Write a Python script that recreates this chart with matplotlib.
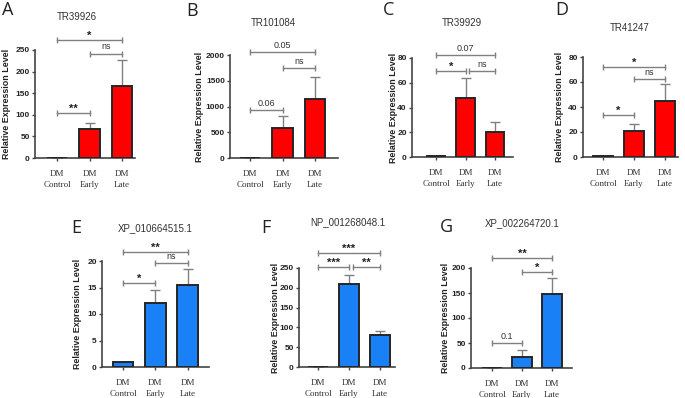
import matplotlib.pyplot as plt
import numpy as np

# group labels on the x axis
groups = ["DM\nControl", "DM\nEarly", "DM\nLate"]

# panel letters and gene titles
letters = ["A", "B", "C", "D", "E", "F", "G"]
titles = ["TR39926", "TR101084", "TR39929", "TR41247",
          "XP_010664515.1", "NP_001268048.1", "XP_002264720.1"]

# mean relative expression (Control, Early, Late)
means_A = [1, 67, 167]
means_B = [1, 580, 1150]
means_C = [1, 47.5, 20.5]
means_D = [1, 21, 44.5]
means_E = [1, 12, 15.5]
means_F = [1, 210, 80]
means_G = [1, 23, 148]

# upper error (SEM)
err_A = [0, 13, 61]
err_B = [0, 230, 430]
err_C = [0, 16, 8]
err_D = [0, 5.5, 14]
err_E = [0, 2.5, 3]
err_F = [0, 23, 10]
err_G = [0, 13, 32]

# y axis tops and tick steps
ymax = [250, 2000, 80, 80, 20, 250, 200]
ystep = [50, 500, 20, 20, 5, 50, 50]

# significance brackets: (from group, to group, height, label)
sig_A = [(0, 2, 273, "*"), (1, 2, 241, "ns"), (0, 1, 104, "**")]
sig_B = [(0, 2, 2058, "0.05"), (1, 2, 1748, "ns"), (0, 1, 932, "0.06")]
sig_C = [(0, 2, 82.4, "0.07"), (0, 1, 69.5, "*"), (1.12, 2, 69.5, "ns")]
sig_D = [(0, 2, 72, "*"), (1, 2, 62.4, "ns"), (0, 1, 33.6, "*")]
sig_E = [(0, 2, 21.7, "**"), (1, 2, 19.6, "ns"), (0, 1, 15.8, "*")]
sig_F = [(0, 2, 288.6, "***"), (0, 1, 253, "***"), (1.12, 2, 253, "**")]
sig_G = [(0, 2, 220, "**"), (1, 2, 192, "*"), (0, 1, 50, "0.1")]

means = [means_A, means_B, means_C, means_D, means_E, means_F, means_G]
errs = [err_A, err_B, err_C, err_D, err_E, err_F, err_G]
sigs = [sig_A, sig_B, sig_C, sig_D, sig_E, sig_F, sig_G]

RED = "#FF0000"
BLUE = "#1A80F5"
colors = [RED] * 4 + [BLUE] * 3

# layout in pixels: left, right, y of zero, y of top tick, control x, spacing
W, H = 685, 398
layout = [
    (35, 135, 158, 50, 57, 32.5),
    (230, 338, 158, 55, 250, 32.5),
    (412, 513, 157, 58, 436, 29.5),
    (583, 678, 157, 57, 603, 31),
    (102, 209, 367, 261, 123, 32.3),
    (299, 395, 367, 268, 318, 31),
    (471, 572, 368, 268, 492, 30),
]
ylabel_x = [7, 200, 393, 560, 78, 275, 446]
title_pos = [(77, 17), (273, 23), (462, 23), (630, 28), (155, 228), (348, 222), (522, 223)]
letter_pos = [(8, 10), (192, 11), (389, 10), (562, 10), (76, 228), (266, 228), (446, 227)]

fig = plt.figure(figsize=(W / 100, H / 100), dpi=100)
sans = ["Liberation Sans", "DejaVu Sans"]
serif = ["Liberation Serif", "DejaVu Serif"]

for k in range(7):
    left, right, y0, ytop, cx, sp = layout[k]
    ax = fig.add_axes([left / W, 1 - y0 / H, (right - left) / W, (y0 - ytop) / H])
    x = np.arange(3)
    ax.bar(x, means[k], width=0.64, color=colors[k], edgecolor="#262626",
           linewidth=1.4, zorder=3)
    ax.errorbar(x, means[k], yerr=[np.zeros(3), errs[k]], fmt="none",
                ecolor="#808080", elinewidth=1.0, capsize=3.5, capthick=1.0, zorder=2)
    ax.set_xlim((left - cx) / sp, (right - cx) / sp)
    ax.set_ylim(0, ymax[k])
    ax.set_yticks(np.arange(0, ymax[k] + ystep[k] / 2, ystep[k]))
    ax.set_xticks(x)
    ax.set_xticklabels(groups, family=serif, fontsize=6.5, color="#333333",
                       linespacing=1.5)
    for lab in ax.get_yticklabels():
        lab.set_family(sans)
        lab.set_fontweight("bold")
        lab.set_fontsize(6)
        lab.set_color("#222222")
    ax.tick_params(axis="both", direction="out", length=2.5, width=1.0, color="#444444")
    ax.tick_params(axis="x", pad=6)
    ax.tick_params(axis="y", pad=1.2)
    for s in ["top", "right"]:
        ax.spines[s].set_visible(False)
    for s in ["left", "bottom"]:
        ax.spines[s].set_color("#444444")
        ax.spines[s].set_linewidth(1.2)
    ax.set_ylabel("Relative Expression Level", family=sans, fontweight="bold",
                  fontsize=6.4, color="#222222", va="center")
    ax.yaxis.set_label_coords((ylabel_x[k] - left) / (right - left), 0.5)

    # significance brackets
    for a, b, yv, lab in sigs[k]:
        ax.plot([a, b], [yv, yv], color="#808080", lw=1.0, clip_on=False, zorder=4)
        ax.plot([a, b], [yv, yv], ls="none", marker="|", ms=4, mew=1.0,
                color="#808080", clip_on=False, zorder=4)
        if set(lab) == {"*"}:
            ax.annotate(lab, ((a + b) / 2, yv), xytext=(0, 0.8), textcoords="offset points",
                        ha="center", va="baseline", fontsize=8, family=sans,
                        fontweight="bold", color="#222222", annotation_clip=False)
        else:
            ax.annotate(lab, ((a + b) / 2, yv), xytext=(0, 3.2), textcoords="offset points",
                        ha="center", va="baseline", fontsize=6.5, family=sans,
                        color="#333333", annotation_clip=False)

    tx, ty = title_pos[k]
    fig.text(tx / W, 1 - ty / H, titles[k], ha="center", va="center",
             fontsize=7, family=sans, color="#333333")
    lx, ly = letter_pos[k]
    fig.text(lx / W, 1 - ly / H, letters[k], ha="center", va="center",
             fontsize=13, family=["Open Sans", "DejaVu Sans"], color="#222222")

fig.savefig("out.png", dpi=100)
